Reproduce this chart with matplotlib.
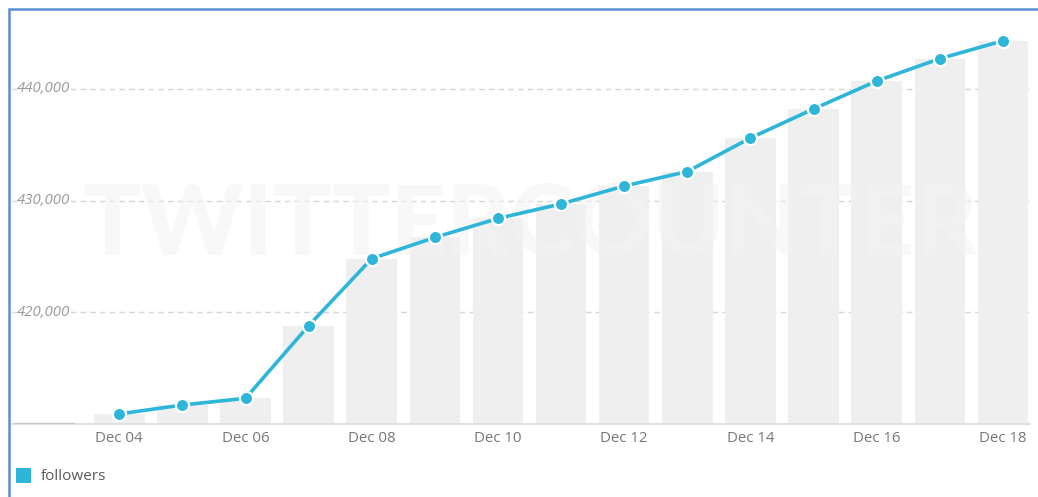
import numpy as np
import matplotlib
matplotlib.use("Agg")
import matplotlib.pyplot as plt
from matplotlib.patches import Rectangle

# Daily follower counts, Dec 04 - Dec 18
days = ["Dec 04", "Dec 05", "Dec 06", "Dec 07", "Dec 08", "Dec 09", "Dec 10",
        "Dec 11", "Dec 12", "Dec 13", "Dec 14", "Dec 15", "Dec 16", "Dec 17", "Dec 18"]
followers = [410900, 411700, 412300, 418800, 424800, 426700, 428400,
             429700, 431300, 432600, 435600, 438200, 440700, 442700, 444300]
y_ticks = [420000, 430000, 440000]

W, H = 1038, 497
fig = plt.figure(figsize=(W / 100, H / 100), dpi=100)
fig.patch.set_facecolor("white")

ax = fig.add_axes([12 / W, 73 / H, 1018 / W, 396.6 / H])
ax.set_facecolor("white")

x = np.arange(len(days))

# Gray daily columns
ax.bar(x, followers, width=0.8, color="#efefef", zorder=1, bottom=0)

# Faint brand watermark across the plot
ax.text(0.509, 0.50, "TWITTERCOUNTER", transform=ax.transAxes,
        ha="center", va="center", fontsize=70, fontweight="black",
        family="Lato", color="#f4f4f4", alpha=0.6, zorder=2)

# Dashed horizontal gridlines
for t in y_ticks:
    ax.axhline(t, color="#d6d6d6", lw=1.0, ls=(0, (4, 3)), zorder=0.5)

# Main follower line
ax.plot(x, followers, color="#2eb6da", lw=2.6, zorder=4,
        marker="o", markersize=9.5, markerfacecolor="#2eb6da",
        markeredgecolor="white", markeredgewidth=1.6, solid_capstyle="round")

ax.set_xlim(-1.70, 14.43)
ax.set_ylim(410000, 445500)

# Axis line and short scroll marker at the left end
ax.axhline(410000, color="#dcdcdc", lw=1.2, zorder=3, clip_on=False)
ax.axhline(410000, xmin=0.003, xmax=0.06, color="#c6c6c6", lw=2.4, zorder=3.5)

for s in ax.spines.values():
    s.set_visible(False)
ax.set_yticks([])
ax.set_xticks(x[::2])
ax.set_xticklabels(days[::2], fontsize=10.8, color="#767676", family="Open Sans")
ax.tick_params(axis="x", length=0, pad=5)

# Y labels sit inside the plot on top of their gridlines
for t in y_ticks:
    ax.text(5 / 1018, t, f"{t:,}", transform=ax.get_yaxis_transform(),
            ha="left", va="center", fontsize=10.8, style="italic",
            color="#9a9a9a", family="Open Sans", zorder=3,
            bbox=dict(facecolor="white", edgecolor="none", pad=0.3))

# Legend
fig.patches.append(Rectangle((16 / W, 1 - 483 / H), 15 / W, 15 / H,
                             transform=fig.transFigure, facecolor="#2eb6da",
                             edgecolor="none"))
fig.text(41 / W, 1 - 476 / H, "followers", ha="left", va="center",
         fontsize=11, color="#5a5a5a", family="Open Sans")

# Blue frame around the panel
fig.patches.append(Rectangle((9 / W, -0.2), 1.2, 1 - 9 / H + 0.2,
                             transform=fig.transFigure, facecolor="none",
                             edgecolor="#5b8ed6", lw=1.8, zorder=10))

fig.savefig("out.png", dpi=100, facecolor="white")
